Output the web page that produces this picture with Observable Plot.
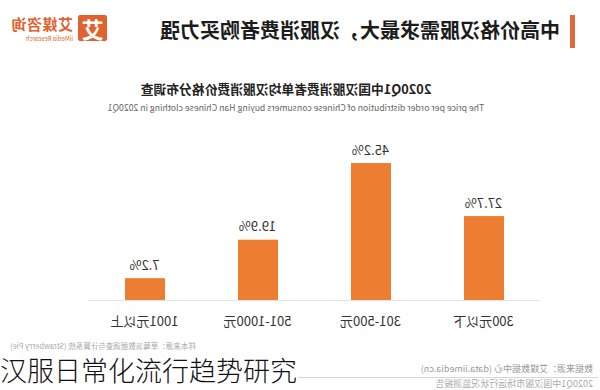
<!DOCTYPE html>
<html>
<head>
<meta charset="utf-8">
<script src="https://cdn.jsdelivr.net/npm/d3@7"></script>
<script src="https://cdn.jsdelivr.net/npm/@observablehq/plot@0.6"></script>
<style>
  html, body { margin: 0; padding: 0; background: #fff; }
  body { width: 600px; height: 390px; overflow: hidden; position: relative;
         font-family: "Noto Sans CJK SC", "Noto Sans", sans-serif; }
  #mirror { position: absolute; left: 0; top: 0; width: 600px; height: 390px;
            transform: scaleX(-1); transform-origin: 300px 0; }
  .abs { position: absolute; white-space: nowrap; }
  #chart { position: absolute; left: 0; top: 0; }
</style>
</head>
<body>
<div id="mirror">
  <div class="abs" style="left:25px; top:15px; width:5px; height:33px; background:#e0683a;"></div>
  <div class="abs" id="headTitle" style="left:40px; top:15px; font-size:20px; font-weight:700; color:#1c1c1c; line-height:30px;"></div>
  <div class="abs" style="left:493px; top:15px; width:29px; height:26px; background:#e2622f; border-radius:2px; color:#fff; font-weight:700; font-size:22px; line-height:26px; text-align:center;">艾</div>
  <div class="abs" style="left:527px; top:15px; font-size:15px; font-weight:700; color:#e2622f; line-height:18px; letter-spacing:0.5px;">艾媒咨询</div>
  <div class="abs" style="left:527px; top:35px; font-size:6px; color:#e2622f; line-height:7px;">iiMedia Research</div>
  <div class="abs" id="chartTitle" style="left:14px; width:600px; top:80px; text-align:center; font-size:12.8px; font-weight:700; color:#222; line-height:18px;"></div>
  <div class="abs" id="chartSub" style="left:4px; width:600px; top:102px; text-align:center; font-size:8.7px; color:#666; line-height:12px;"></div>
  <div id="chart"></div>
  <div class="abs" style="left:10px; top:341px; font-size:7.5px; color:#aaa; width:580px; text-align:right; line-height:9px;" id="sample"></div>
  <div class="abs" style="left:7px; top:363px; font-size:9px; color:#999; line-height:12px;" id="source"></div>
  <div class="abs" style="left:2px; top:377px; width:300px; height:1px; background:#d6d6d6;"></div>
  <div class="abs" style="left:7px; top:379px; font-size:9px; color:#aaa; line-height:10px;" id="report"></div>
</div>
<div class="abs" style="left:0; top:356px; font-size:27px; font-weight:300; color:#111; line-height:28px; font-family:'Noto Sans CJK SC', sans-serif;">汉服日常化流行趋势研究</div>
<script>
const headTitle = "中高价格汉服需求最大，汉服消费者购买力强";
const chartTitle = "2020Q1中国汉服消费者单均汉服消费价格分布调查";
const chartSubtitle = "The price per order distribution of Chinese consumers buying Han Chinese clothing in 2020Q1";
const sampleNote = "样本来源：草莓派数据调查与计算系统 (Strawberry Pie)";
const sourceNote = "数据来源：艾媒数据中心 (data.iimedia.cn)";
const reportNote = "2020Q1中国汉服市场运行状况监测报告";

const categories = ["300元以下", "301-500元", "501-1000元", "1001元以上"];
const shares = [27.7, 45.2, 19.9, 7.2];
const valueLabels = ["27.7%", "45.2%", "19.9%", "7.2%"];

document.getElementById("headTitle").textContent = headTitle;
document.getElementById("chartTitle").textContent = chartTitle;
document.getElementById("chartSub").textContent = chartSubtitle;
document.getElementById("sample").textContent = sampleNote;
document.getElementById("source").textContent = sourceNote;
document.getElementById("report").textContent = reportNote;

const data = categories.map((c, i) => ({cat: c, v: shares[i], label: valueLabels[i]}));

const chart = Plot.plot({
  width: 600,
  height: 340,
  marginTop: 148.5,
  marginBottom: 40,
  marginLeft: 60,
  marginRight: 88,
  style: {fontFamily: "'Noto Sans CJK SC', sans-serif", color: "#333", background: "transparent"},
  x: {domain: categories, paddingInner: 0.646, paddingOuter: 0.323, label: null},
  y: {domain: [0, 50], axis: null},
  marks: [
    Plot.barY(data, {x: "cat", y: "v", fill: "#ed7d31"}),
    Plot.ruleY([0], {stroke: "#e4e4e4", strokeWidth: 1}),
    Plot.text(data, {x: "cat", y: "v", text: "label", dy: -13, fontSize: 13, fill: "#333"}),
    Plot.axisX({tickSize: 0, tickPadding: 16, fontSize: 13, label: null})
  ]
});
document.getElementById("chart").appendChild(chart);
</script>
</body>
</html>
